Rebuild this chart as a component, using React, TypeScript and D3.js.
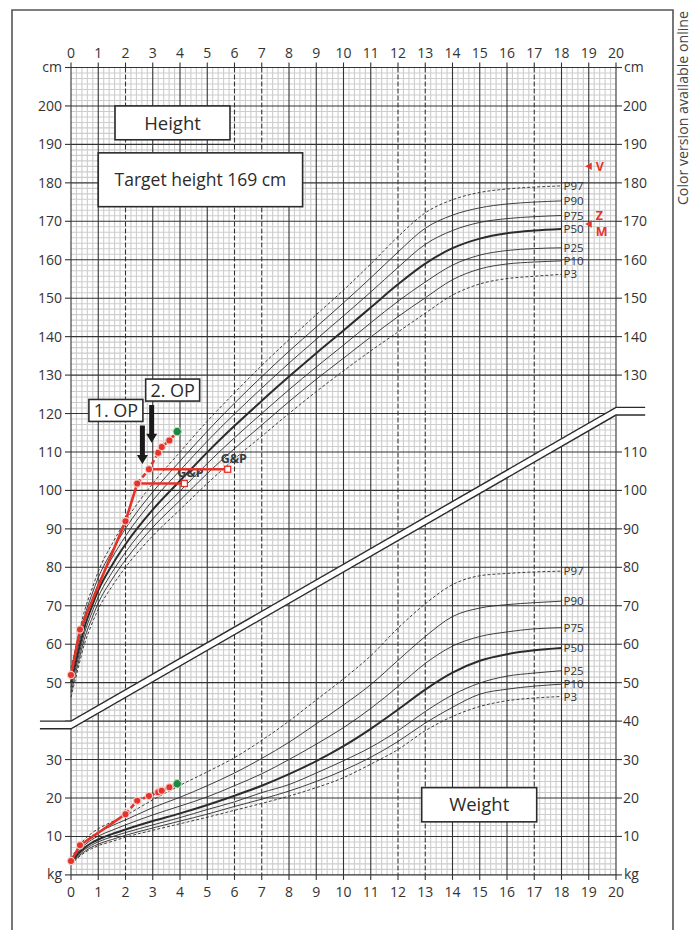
import React from 'react';
import * as d3 from 'd3';

// ---------- data ----------
const ages = [0, 0.25, 0.5, 0.75, 1, 1.5, 2, 3, 4, 5, 6, 7, 8, 9, 10, 11, 12, 13, 14, 15, 16, 17, 18];
const percentileNames = ['P97', 'P90', 'P75', 'P50', 'P25', 'P10', 'P3'];

const heightP97 = [53.8, 61.6, 68.8, 74.0, 78.9, 86.0, 92.0, 101.8, 110.0, 118.0, 125.4, 132.5, 139.2, 145.7, 152.1, 158.9, 166.0, 172.2, 175.6, 177.5, 178.4, 178.9, 179.2];
const heightP90 = [52.6, 60.3, 67.4, 72.6, 77.3, 84.2, 90.1, 99.6, 107.6, 115.4, 122.7, 129.6, 136.2, 142.5, 148.8, 155.3, 162.0, 168.2, 171.6, 173.5, 174.5, 175.0, 175.3];
const heightP75 = [51.3, 59.0, 66.0, 71.1, 75.7, 82.4, 88.1, 97.4, 105.2, 112.8, 119.9, 126.6, 133.1, 139.3, 145.4, 151.6, 158.0, 164.0, 167.6, 169.7, 170.7, 171.2, 171.5];
const heightP50 = [50.0, 57.5, 64.5, 69.5, 74.0, 80.5, 86.0, 95.0, 102.5, 109.9, 116.8, 123.3, 129.6, 135.7, 141.6, 147.6, 153.6, 159.0, 163.0, 165.5, 166.9, 167.6, 168.0];
const heightP25 = [48.7, 56.0, 63.0, 67.9, 72.3, 78.6, 83.9, 92.6, 99.8, 107.0, 113.7, 120.0, 126.2, 132.1, 137.8, 143.6, 149.2, 154.2, 158.6, 161.2, 162.4, 162.9, 163.1];
const heightP10 = [47.4, 54.7, 61.6, 66.4, 70.7, 76.8, 81.9, 90.4, 97.4, 104.4, 110.9, 117.0, 123.1, 128.9, 134.4, 139.9, 145.2, 150.1, 154.8, 157.6, 158.9, 159.4, 159.7];
const heightP3 = [46.2, 53.4, 60.2, 65.0, 69.1, 75.0, 80.0, 88.2, 95.0, 101.8, 108.2, 114.1, 120.0, 125.7, 131.1, 136.3, 141.2, 146.1, 150.8, 153.7, 155.1, 155.7, 156.2];

const weightP97 = [4.3, 7.0, 9.3, 10.8, 12.0, 13.8, 15.5, 19.5, 23.3, 26.8, 30.5, 35.0, 40.0, 45.5, 51.0, 57.0, 64.2, 70.5, 75.5, 77.8, 78.4, 78.8, 79.0];
const weightP90 = [4.0, 6.5, 8.6, 10.0, 11.1, 12.8, 14.3, 17.5, 20.2, 23.2, 26.5, 30.3, 34.5, 39.3, 44.2, 49.5, 55.8, 62.0, 67.2, 69.4, 70.3, 70.8, 71.2];
const weightP75 = [3.6, 5.9, 7.8, 9.1, 10.1, 11.6, 13.0, 15.6, 17.9, 20.3, 23.2, 26.3, 30.0, 34.0, 38.3, 43.3, 49.0, 55.0, 59.5, 62.0, 63.2, 64.0, 64.3];
const weightP50 = [3.3, 5.4, 7.1, 8.3, 9.2, 10.6, 11.8, 14.0, 16.0, 18.2, 20.6, 23.2, 26.2, 29.6, 33.5, 38.0, 43.0, 48.2, 52.6, 55.7, 57.4, 58.4, 59.0];
const weightP25 = [3.0, 5.0, 6.6, 7.7, 8.6, 9.9, 11.0, 13.0, 14.9, 17.0, 19.0, 21.4, 23.5, 26.5, 29.7, 33.2, 37.5, 42.5, 46.8, 49.9, 51.7, 52.5, 53.1];
const weightP10 = [2.8, 4.7, 6.1, 7.2, 8.0, 9.2, 10.3, 12.2, 14.0, 15.8, 17.8, 19.7, 21.8, 24.3, 27.2, 30.6, 34.7, 39.5, 43.6, 47.0, 48.3, 49.1, 49.6];
const weightP3 = [2.6, 4.4, 5.8, 6.8, 7.6, 8.7, 9.8, 11.6, 13.3, 15.0, 16.8, 18.6, 20.5, 22.7, 25.3, 28.8, 32.6, 37.5, 41.2, 43.8, 45.3, 46.0, 46.4];

// patient
const visitAges = [0, 0.33, 2.0, 2.43, 2.86, 3.2, 3.33, 3.61];
const visitHeights = [52, 63.8, 92, 101.8, 105.5, 109.8, 111.3, 113];
const visitWeights = [3.6, 7.7, 15.8, 19.3, 20.5, 21.5, 21.9, 22.8];
const heightSolidUntil = 3; // index of last solid-joined visit
const weightSolidUntil = 2;
const lastAge = 3.9;
const lastHeight = 115.3;
const lastWeight = 23.7;

// bone age (Greulich & Pyle)
const boneFromAges = [2.43, 2.86];
const boneAges = [4.16, 5.75];
const boneHeights = [101.8, 105.5];

// operations
const opLabels = ['1. OP', '2. OP'];
const opAges = [2.62, 2.96];
const opArrowTop = [116.9, 122.2];
const opArrowTip = [106.9, 112.4];

// parental heights markers
const markerLabels = ['V', 'Z', 'M'];
const fatherHeight = 184.3;
const targetHeight = 169.3;

// axis tick labels
const yearTicks = d3.range(0, 21);
const leftValueLabels = [200, 190, 180, 170, 160, 150, 140, 130, 120, 110, 100, 90, 80, 70, 60, 50, 30, 20, 10];
const rightValueLabels = [200, 190, 180, 170, 160, 150, 140, 130, 110, 100, 90, 80, 70, 60, 50, 40, 30, 20, 10];
const dashedYears = [2, 6, 7, 12, 13, 17];

// ---------- layout ----------
const W = 693;
const H = 930;
const x = d3.scaleLinear().domain([0, 20]).range([71, 616]);
const y = d3.scaleLinear().domain([0, 210]).range([874.9, 67.5]);

const FONT = "'Open Sans', 'Noto Sans', sans-serif";
const INK = '#2b2b2b';
const RED = '#e5332a';
const GREEN = '#1c8a3c';

const heightSeries = [heightP97, heightP90, heightP75, heightP50, heightP25, heightP10, heightP3];
const weightSeries = [weightP97, weightP90, weightP75, weightP50, weightP25, weightP10, weightP3];

const curveGen = d3
  .line<[number, number]>()
  .x((d) => x(d[0]))
  .y((d) => y(d[1]))
  .curve(d3.curveMonotoneX);

const straight = d3
  .line<[number, number]>()
  .x((d) => x(d[0]))
  .y((d) => y(d[1]));

function Percentiles({ series }: { series: number[][] }) {
  return (
    <g>
      {series.map((vals, i) => {
        const name = percentileNames[i];
        const pts = ages.map((a, j) => [a, vals[j]] as [number, number]);
        const dashed = name === 'P97' || name === 'P3';
        const thick = name === 'P50';
        const last = pts[pts.length - 1];
        return (
          <g key={name}>
            <path
              d={curveGen(pts) || ''}
              fill="none"
              stroke={INK}
              strokeWidth={thick ? 2 : 0.9}
              strokeDasharray={dashed ? '3,2' : undefined}
            />
            <text
              x={x(last[0]) + 2}
              y={y(last[1])}
              dy="0.36em"
              fontSize={11.5}
              fontFamily={FONT}
              fill="#333"
            >
              {name}
            </text>
          </g>
        );
      })}
    </g>
  );
}

function PatientTrack({ values, solidUntil, last }: { values: number[]; solidUntil: number; last: number }) {
  const pts = visitAges.map((a, i) => [a, values[i]] as [number, number]);
  const solid = pts.slice(0, solidUntil + 1);
  const dashed = pts.slice(solidUntil).concat([[lastAge, last]]);
  return (
    <g>
      <path d={straight(solid) || ''} fill="none" stroke={RED} strokeWidth={2.6} />
      <path d={straight(dashed) || ''} fill="none" stroke={RED} strokeWidth={2.6} strokeDasharray="5,3" />
      {pts.map((p, i) => (
        <circle key={i} cx={x(p[0])} cy={y(p[1])} r={3.6} fill={RED} stroke="#f6c9c6" strokeWidth={1.2} />
      ))}
      <circle cx={x(lastAge)} cy={y(last)} r={4.2} fill={GREEN} stroke="#bfe3c8" strokeWidth={1} />
    </g>
  );
}

function Box({ x0, y0, x1, y1, label, size }: { x0: number; y0: number; x1: number; y1: number; label: string; size: number }) {
  return (
    <g>
      <rect x={x0} y={y0} width={x1 - x0} height={y1 - y0} fill="#fff" stroke={INK} strokeWidth={1.6} />
      <text
        x={(x0 + x1) / 2}
        y={(y0 + y1) / 2}
        dy="0.36em"
        textAnchor="middle"
        fontSize={size}
        fontFamily={FONT}
        fill={INK}
      >
        {label}
      </text>
    </g>
  );
}

export default function App() {
  const x0 = x(0);
  const x20 = x(20);
  const yTop = y(210);
  const yBot = y(0);

  const minorV: number[] = [];
  for (let i = 1; i < 100; i++) if (i % 5 !== 0) minorV.push(i * 0.2);
  const minorH: number[] = [];
  for (let k = 1; k < 147; k++) if (k % 7 !== 0) minorH.push((k * 10) / 7);
  const majorH = d3.range(0, 211, 10);

  // break band (value coordinates)
  const bandUpper: [number, number][] = [[-1.14, 40], [0, 40], [20, 121.6], [21.07, 121.6]];
  const bandLower: [number, number][] = [[-1.14, 38], [0, 38], [20, 119.6], [21.07, 119.6]];
  const bandPoly = bandUpper.concat(bandLower.slice().reverse());

  const tri = (cx: number, cy: number) => `M${cx - 3.5},${cy} L${cx + 3},${cy - 3.8} L${cx + 3},${cy + 3.8} Z`;

  return (
    <svg
      width={W}
      height={H}
      viewBox={`0 0 ${W} ${H}`}
      style={{ position: 'absolute', left: 0, top: 0, background: '#fff' }}
    >
      <rect x={0} y={0} width={W} height={H} fill="#fff" />
      {/* frame */}
      <path d={`M12,${H} L12,10 L673,10 L673,${H}`} fill="none" stroke="#555" strokeWidth={1.6} />
      <text
        transform={`translate(688,11) rotate(-90)`}
        textAnchor="end"
        fontSize={14.2}
        fontFamily={FONT}
        fill="#444"
      >
        Color version available online
      </text>

      {/* minor grid */}
      <g stroke="#cdcdcd" strokeWidth={1.1}>
        {minorV.map((v) => (
          <line key={'mv' + v} x1={x(v)} x2={x(v)} y1={yTop} y2={yBot} />
        ))}
        {minorH.map((v) => (
          <line key={'mh' + v} x1={x0} x2={x20} y1={y(v)} y2={y(v)} />
        ))}
      </g>
      {/* major grid */}
      <g stroke="#333" strokeWidth={1.1}>
        {majorH.map((v) => (
          <line key={'MH' + v} x1={x0} x2={x20} y1={y(v)} y2={y(v)} />
        ))}
        {yearTicks.map((t) => (
          <line
            key={'MV' + t}
            x1={x(t)}
            x2={x(t)}
            y1={yTop}
            y2={yBot}
            strokeDasharray={dashedYears.includes(t) ? '5,2' : undefined}
          />
        ))}
      </g>
      {/* ticks */}
      <g stroke="#333" strokeWidth={1.1}>
        {yearTicks.map((t) => (
          <g key={'t' + t}>
            <line x1={x(t)} x2={x(t)} y1={yTop - 5} y2={yTop} />
            <line x1={x(t)} x2={x(t)} y1={yBot} y2={yBot + 5} />
          </g>
        ))}
        {majorH.map((v) => (
          <g key={'tv' + v}>
            <line x1={x0 - 6} x2={x0} y1={y(v)} y2={y(v)} />
            <line x1={x20} x2={x20 + 6} y1={y(v)} y2={y(v)} />
          </g>
        ))}
      </g>

      {/* axis labels */}
      <g fontFamily={FONT} fontSize={14} fill="#333">
        {yearTicks.map((t) => (
          <g key={'yl' + t}>
            <text x={x(t)} y={yTop - 10} textAnchor="middle">{t}</text>
            <text x={x(t)} y={yBot + 22} textAnchor="middle">{t}</text>
          </g>
        ))}
        {leftValueLabels.map((v) => (
          <text key={'l' + v} x={x0 - 9} y={y(v)} dy="0.36em" textAnchor="end">{v}</text>
        ))}
        {rightValueLabels.map((v) => (
          <text key={'r' + v} x={x20 + 7} y={y(v)} dy="0.36em">{v}</text>
        ))}
        <text x={x0 - 9} y={yTop} dy="0.3em" textAnchor="end">cm</text>
        <text x={x20 + 8} y={yTop} dy="0.3em">cm</text>
        <text x={x0 - 9} y={yBot} dy="0.3em" textAnchor="end">kg</text>
        <text x={x20 + 8} y={yBot} dy="0.3em">kg</text>
      </g>

      {/* axis break band */}
      <path d={(straight(bandPoly) || '') + 'Z'} fill="#fff" stroke="none" />
      <path d={straight(bandUpper) || ''} fill="none" stroke={INK} strokeWidth={1.4} />
      <path d={straight(bandLower) || ''} fill="none" stroke={INK} strokeWidth={1.4} />

      {/* reference curves */}
      <Percentiles series={heightSeries} />
      <Percentiles series={weightSeries} />

      {/* boxes */}
      <Box x0={x(1.615)} y0={y(200)} x1={x(5.835)} y1={y(191.2)} label="Height" size={18.5} />
      <Box x0={x(1.0)} y0={y(187.8)} x1={x(8.5)} y1={y(173.8)} label="Target height 169 cm" size={17.5} />
      <Box x0={x(12.87)} y0={y(22.7)} x1={x(17.09)} y1={y(13.8)} label="Weight" size={18.5} />

      {/* bone age */}
      {boneAges.map((ba, i) => (
        <g key={'ba' + i}>
          <line x1={x(boneFromAges[i])} x2={x(ba)} y1={y(boneHeights[i])} y2={y(boneHeights[i])} stroke={RED} strokeWidth={2.6} />
          <rect x={x(ba) - 3} y={y(boneHeights[i]) - 3} width={6} height={6} fill="#fff" stroke={RED} strokeWidth={1.3} />
          <text
            x={x(ba) - 7}
            y={y(boneHeights[i]) - 11}
            dy="0.36em"
            fontSize={12.5}
            fontWeight="bold"
            fontFamily={FONT}
            fill="#3a3a3a"
          >
            G&amp;P
          </text>
        </g>
      ))}

      {/* patient tracks */}
      <PatientTrack values={visitHeights} solidUntil={heightSolidUntil} last={lastHeight} />
      <PatientTrack values={visitWeights} solidUntil={weightSolidUntil} last={lastWeight} />

      {/* operations */}
      {opLabels.map((lab, i) => {
        const ax = x(opAges[i]);
        const top = y(opArrowTop[i]);
        const tip = y(opArrowTip[i]);
        const bw = 54;
        const bh = 22;
        const bx = i === 0 ? ax - bw + 0.5 : ax - 6;
        const by = top - bh - 4;
        return (
          <g key={lab}>
            <path
              d={`M${ax - 2.5},${top} L${ax + 2.5},${top} L${ax + 2.5},${tip - 9} L${ax + 5.5},${tip - 9} L${ax},${tip} L${ax - 5.5},${tip - 9} L${ax - 2.5},${tip - 9} Z`}
              fill="#1a1a1a"
            />
            <Box x0={bx} y0={by} x1={bx + bw} y1={by + bh} label={lab} size={18} />
          </g>
        );
      })}

      {/* parental heights */}
      <g fill={RED} fontFamily={FONT} fontWeight="bold" fontSize={12.5}>
        <path d={tri(x(19), y(fatherHeight))} />
        <text x={x(19) + 7} y={y(fatherHeight)} dy="0.36em">{markerLabels[0]}</text>
        <path d={tri(x(19), y(targetHeight))} />
        <text x={x(19) + 7} y={y(targetHeight) - 8} dy="0.36em">{markerLabels[1]}</text>
        <text x={x(19) + 7} y={y(targetHeight) + 8} dy="0.36em">{markerLabels[2]}</text>
      </g>
    </svg>
  );
}
